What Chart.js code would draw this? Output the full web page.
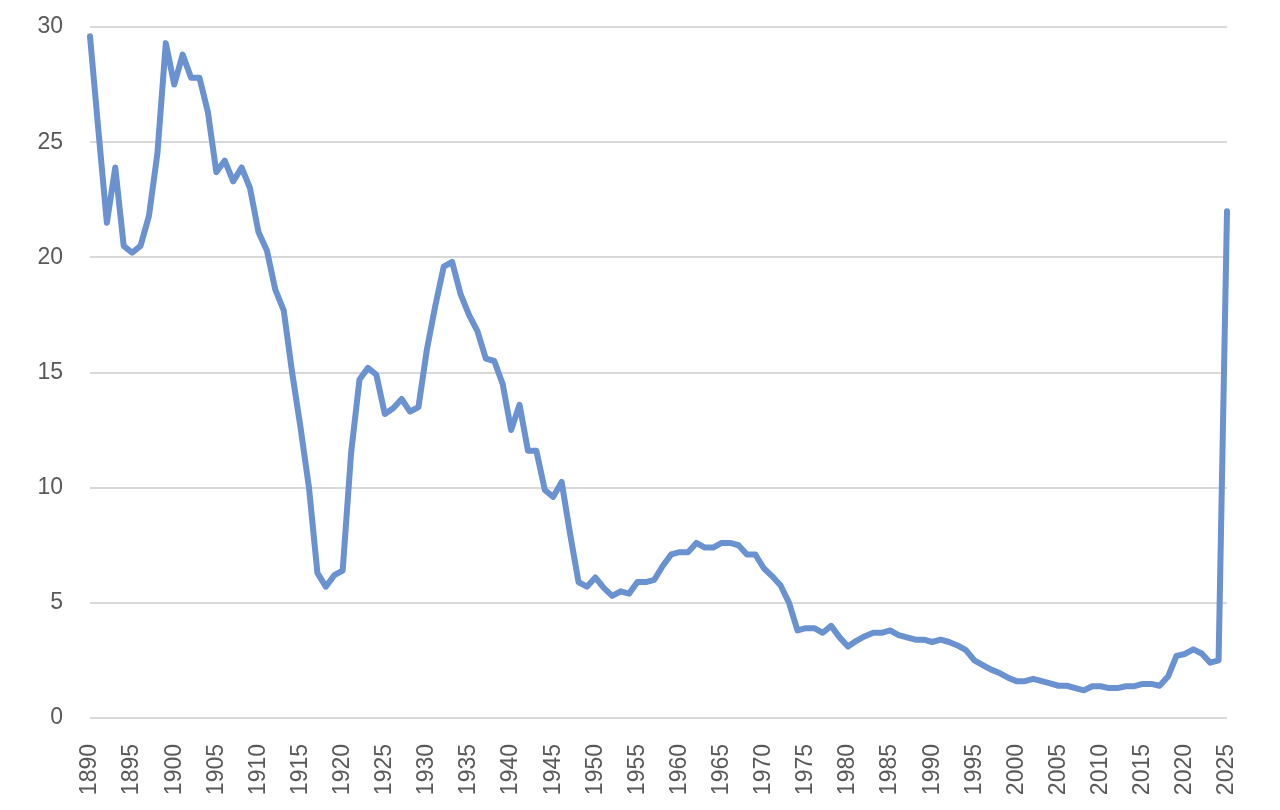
<!DOCTYPE html>
<html>
<head>
<meta charset="utf-8">
<script src="https://cdn.jsdelivr.net/npm/chart.js@4/dist/chart.umd.min.js"></script>
<style>
    html, body { margin: 0; padding: 0; background: #ffffff; }
    #wrap { width: 1280px; height: 810px; }
</style>
</head>
<body>
<div id="wrap"><canvas id="chart" width="1280" height="810"></canvas></div>
<script>
// Années 1890 à 2025
const years = [];
for (let y = 1890; y <= 2025; y++) years.push(String(y));

// Valeurs (une par année)
const values1890s = [29.6, 25.5, 21.5, 23.9, 20.5, 20.2, 20.5, 21.8, 24.5, 29.3];
const values1900s = [27.5, 28.8, 27.8, 27.8, 26.3, 23.7, 24.2, 23.3, 23.9, 23.0];
const values1910s = [21.1, 20.3, 18.6, 17.7, 15.0, 12.6, 10.0, 6.3, 5.7, 6.2];
const values1920s = [6.4, 11.5, 14.7, 15.2, 14.9, 13.2, 13.45, 13.85, 13.3, 13.5];
const values1930s = [16.0, 17.9, 19.6, 19.8, 18.4, 17.5, 16.8, 15.6, 15.5, 14.5];
const values1940s = [12.5, 13.6, 11.6, 11.6, 9.9, 9.6, 10.25, 8.0, 5.9, 5.7];
const values1950s = [6.1, 5.65, 5.3, 5.5, 5.4, 5.9, 5.9, 6.0, 6.6, 7.1];
const values1960s = [7.2, 7.2, 7.6, 7.4, 7.4, 7.6, 7.6, 7.5, 7.1, 7.1];
const values1970s = [6.5, 6.15, 5.75, 5.0, 3.8, 3.9, 3.9, 3.7, 4.0, 3.5];
const values1980s = [3.1, 3.35, 3.55, 3.7, 3.7, 3.8, 3.6, 3.5, 3.4, 3.4];
const values1990s = [3.3, 3.4, 3.3, 3.15, 2.95, 2.5, 2.3, 2.1, 1.95, 1.75];
const values2000s = [1.6, 1.6, 1.7, 1.6, 1.5, 1.4, 1.4, 1.3, 1.2, 1.38];
const values2010s = [1.38, 1.3, 1.3, 1.38, 1.38, 1.48, 1.48, 1.4, 1.8, 2.7];
const values2020s = [2.78, 2.98, 2.8, 2.4, 2.5, 22.0];

const values = [].concat(values1890s, values1900s, values1910s, values1920s,
    values1930s, values1940s, values1950s, values1960s, values1970s,
    values1980s, values1990s, values2000s, values2010s, values2020s);

const yTicks = [0, 5, 10, 15, 20, 25, 30];

const textColor = '#595959';
const gridColor = '#d9d9d9';
const lineColor = 'rgb(106,145,208)';
const fontFamily = '"Liberation Sans", Arial, sans-serif';

new Chart(document.getElementById('chart'), {
    type: 'line',
    data: {
        labels: years,
        datasets: [{
            data: values,
            borderColor: lineColor,
            borderWidth: 6,
            pointRadius: 0,
            tension: 0,
            fill: false,
            borderCapStyle: 'round',
            borderJoinStyle: 'round'
        }]
    },
    options: {
        responsive: false,
        animation: false,
        layout: { padding: { top: 27, right: 53, bottom: 0, left: 0 } },
        plugins: {
            legend: { display: false },
            tooltip: { enabled: false }
        },
        scales: {
            x: {
                type: 'category',
                offset: false,
                grid: { display: false },
                border: { display: false },
                ticks: {
                    autoSkip: false,
                    maxRotation: 90,
                    minRotation: 90,
                    padding: 18,
                    color: textColor,
                    font: { family: fontFamily, size: 23 },
                    callback: function(value, index) {
                        const label = years[index];
                        return Number(label) % 5 === 0 ? label : null;
                    }
                },
                afterFit: function(scale) {
                    scale.height = 92;
                    scale.paddingTop = 0;
                    scale.paddingBottom = 0;
                }
            },
            y: {
                min: 0,
                max: 30,
                afterBuildTicks: function(scale) {
                    scale.ticks = yTicks.map(v => ({ value: v }));
                },
                grid: {
                    color: gridColor,
                    lineWidth: 2,
                    drawTicks: false
                },
                border: { display: false },
                ticks: {
                    padding: 27,
                    color: textColor,
                    font: { family: fontFamily, size: 23 }
                },
                afterFit: function(scale) {
                    scale.width = 90;
                    scale.paddingTop = 0;
                    scale.paddingBottom = 0;
                }
            }
        }
    }
});
</script>
</body>
</html>
